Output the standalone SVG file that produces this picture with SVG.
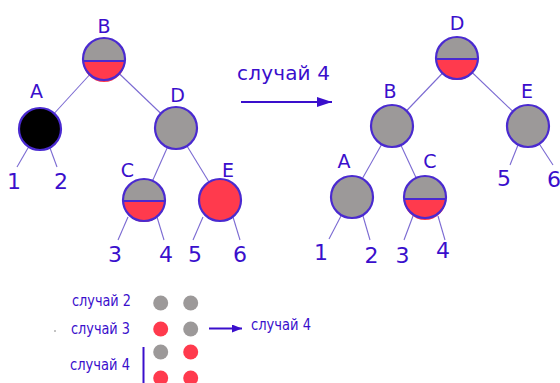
<svg xmlns="http://www.w3.org/2000/svg" width="560" height="383" viewBox="0 0 560 383">
<style>
text{font-family:"DejaVu Sans","Liberation Sans",sans-serif;fill:#3a0fcc}
.lbl{font-size:19px;text-anchor:middle}
.num{font-size:22px;text-anchor:middle}
.cap{font-size:16px}
.edge{stroke:#7b6ad2;stroke-width:1.1;fill:none}
.ring{fill:none;stroke:#4a2ad0;stroke-width:2.2}
.gray{fill:#9c9999}
.red{fill:#ff3a4d}
.blk{fill:#000}
.div{stroke:#4a2ad0;stroke-width:2.2}
</style>
<defs>
<marker id="ah" viewBox="0 0 10 8" refX="10" refY="4" markerWidth="10" markerHeight="8" markerUnits="userSpaceOnUse" orient="auto"><path d="M0,0 L10,4 L0,8 z" fill="#3a0fcc"/></marker>
<marker id="ah2" viewBox="0 0 15 10" refX="15" refY="5" markerWidth="15" markerHeight="10" markerUnits="userSpaceOnUse" orient="auto"><path d="M0,0 L15,5 L0,10 z" fill="#3a0fcc"/></marker>
</defs>
<g id="connectors">
<line class="edge" x1="104" y1="59" x2="40" y2="129"/>
<line class="edge" x1="104" y1="59" x2="176" y2="128"/>
<line class="edge" x1="176" y1="128" x2="144" y2="200"/>
<line class="edge" x1="176" y1="128" x2="220" y2="200"/>
<line class="edge" x1="28" y1="148" x2="17" y2="167"/>
<line class="edge" x1="50" y1="148" x2="57" y2="167"/>
<line class="edge" x1="128" y1="217" x2="118" y2="240"/>
<line class="edge" x1="157" y1="217" x2="164" y2="240"/>
<line class="edge" x1="203" y1="217" x2="193" y2="240"/>
<line class="edge" x1="233" y1="217" x2="240" y2="240"/>
<line class="edge" x1="457" y1="58" x2="392" y2="126"/>
<line class="edge" x1="457" y1="58" x2="528" y2="126"/>
<line class="edge" x1="392" y1="126" x2="352" y2="197"/>
<line class="edge" x1="392" y1="126" x2="425" y2="197"/>
<line class="edge" x1="341" y1="216" x2="329" y2="239"/>
<line class="edge" x1="363" y1="216" x2="370" y2="240"/>
<line class="edge" x1="413" y1="216" x2="404" y2="240"/>
<line class="edge" x1="438" y1="216" x2="445" y2="240"/>
<line class="edge" x1="518" y1="145" x2="510" y2="165"/>
<line class="edge" x1="540" y1="145" x2="553" y2="165"/>
<line stroke="#3a0fcc" stroke-width="2" x1="241" y1="102" x2="332" y2="102" marker-end="url(#ah2)"/>
<line stroke="#3a0fcc" stroke-width="2" x1="209" y1="328.5" x2="242" y2="328.5" marker-end="url(#ah)"/>
<line stroke="#3a0fcc" stroke-width="2" x1="143.5" y1="347" x2="143.5" y2="383"/>
</g>
<g id="L-B"><circle class="gray" cx="104" cy="59" r="21"/><path class="red" d="M83,61 A21,21 0 0 0 125,61 Z"/><line class="div" x1="83" y1="61" x2="125" y2="61"/><circle class="ring" cx="104" cy="59" r="21"/><text class="lbl" x="104" y="33">B</text></g>
<g id="L-A"><circle class="blk" cx="40" cy="129" r="21"/><circle class="ring" cx="40" cy="129" r="21"/><text class="lbl" x="36.5" y="98">A</text></g>
<g id="L-D"><circle class="gray" cx="176" cy="128" r="21"/><circle class="ring" cx="176" cy="128" r="21"/><text class="lbl" x="177.5" y="102">D</text></g>
<g id="L-C"><circle class="gray" cx="144" cy="200" r="21"/><path class="red" d="M123,201 A21,21 0 0 0 165,201 Z"/><line class="div" x1="123" y1="201" x2="165" y2="201"/><circle class="ring" cx="144" cy="200" r="21"/><text class="lbl" x="127.5" y="177">C</text></g>
<g id="L-E"><circle class="red" cx="220" cy="200" r="21"/><circle class="ring" cx="220" cy="200" r="21"/><text class="lbl" x="228" y="177">E</text></g>
<g id="L-leaves">
<text class="num" x="14" y="189">1</text><text class="num" x="61" y="189">2</text>
<text class="num" x="115" y="262">3</text><text class="num" x="166" y="262">4</text>
<text class="num" x="195" y="262">5</text><text class="num" x="240" y="262">6</text>
</g>
<g id="R-D"><circle class="gray" cx="457" cy="58" r="21"/><path class="red" d="M436,59 A21,21 0 0 0 478,59 Z"/><line class="div" x1="436" y1="59" x2="478" y2="59"/><circle class="ring" cx="457" cy="58" r="21"/><text class="lbl" x="457" y="30">D</text></g>
<g id="R-B"><circle class="gray" cx="392" cy="126" r="21"/><circle class="ring" cx="392" cy="126" r="21"/><text class="lbl" x="390" y="98">B</text></g>
<g id="R-E"><circle class="gray" cx="528" cy="126" r="21"/><circle class="ring" cx="528" cy="126" r="21"/><text class="lbl" x="527" y="98">E</text></g>
<g id="R-A"><circle class="gray" cx="352" cy="197" r="21"/><circle class="ring" cx="352" cy="197" r="21"/><text class="lbl" x="344" y="168">A</text></g>
<g id="R-C"><circle class="gray" cx="425" cy="197" r="21"/><path class="red" d="M404,199 A21,21 0 0 0 446,199 Z"/><line class="div" x1="404" y1="199" x2="446" y2="199"/><circle class="ring" cx="425" cy="197" r="21"/><text class="lbl" x="430" y="168">C</text></g>
<g id="R-leaves">
<text class="num" x="321" y="260">1</text><text class="num" x="371.5" y="263">2</text>
<text class="num" x="402.5" y="263">3</text><text class="num" x="443" y="258">4</text>
<text class="num" x="504" y="186">5</text><text class="num" x="554" y="187">6</text>
</g>
<g id="caption-top"><text x="237" y="80" style="font-size:20px" textLength="93" lengthAdjust="spacing">случай  4</text></g>
<g id="legend">
<text class="cap" x="72" y="306" textLength="59" lengthAdjust="spacingAndGlyphs">случай 2</text>
<text class="cap" x="71" y="334" textLength="59" lengthAdjust="spacingAndGlyphs">случай 3</text>
<text class="cap" x="70" y="370" textLength="60" lengthAdjust="spacingAndGlyphs">случай 4</text>
<text class="cap" x="251" y="330" textLength="60" lengthAdjust="spacingAndGlyphs">случай 4</text>
<circle cx="55" cy="331" r="0.8" fill="#777"/>
<circle class="gray" cx="160.7" cy="303" r="7.5"/><circle class="gray" cx="190.7" cy="303" r="7.5"/>
<circle class="red" cx="160.7" cy="329" r="7.5"/><circle class="gray" cx="190.7" cy="329" r="7.5"/>
<circle class="gray" cx="160.7" cy="352" r="7.5"/><circle class="red" cx="190.7" cy="352" r="7.5"/>
<circle class="red" cx="160.7" cy="378" r="7.5"/><circle class="red" cx="190.7" cy="378" r="7.5"/>
</g>
</svg>
